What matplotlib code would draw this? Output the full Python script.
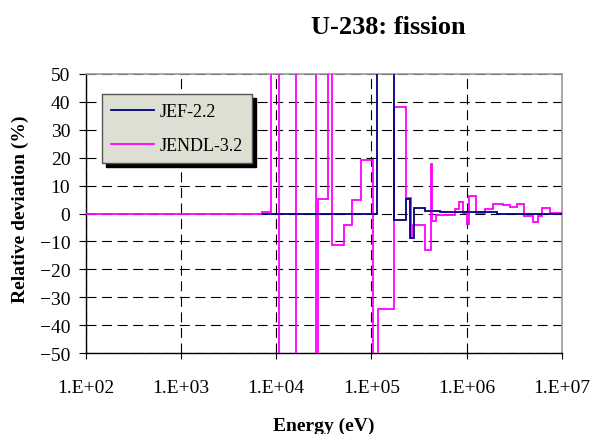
import matplotlib.pyplot as plt
import numpy as np

# group boundaries (eV) and relative deviation (%) for each evaluation
# values of +/-200 are off-scale spikes that get clipped by the y-limits
JEF_EDGES = [7.1e3, 1.14e5, 1.73e5, 2.3e5, 2.54e5, 2.8e5, 3.64e5,
             5.2e5, 2.06e6, 1.0e7]
JEF_VALUES = [0.0, 200.0, -2.3, 5.2, -8.8, 1.9, 0.8, 0.4, 0.0]

JENDL_EDGES = [1.0e2, 7.1e3, 8.75e3, 1.07e4, 1.6e4, 2.6e4, 2.77e4, 3.47e4,
               3.88e4, 5.19e4, 6.29e4, 7.77e4, 1.045e5, 1.16e5, 1.73e5,
               2.28e5, 2.58e5, 2.75e5, 3.64e5, 4.18e5, 4.34e5, 4.75e5,
               7.51e5, 8.34e5, 9.05e5, 9.97e5, 1.05e6, 1.25e6, 1.55e6,
               1.9e6, 2.42e6, 2.84e6, 3.34e6, 4.01e6, 4.92e6, 5.63e6,
               6.11e6, 7.47e6, 1.0e7]
JENDL_VALUES = [0.0, 0.7, 200.0, -200.0, 200.0, -200.0, 5.2, 200.0,
                -11.4, -4.1, 5.0, 19.2, -200.0, -34.2, 38.2, 5.6, -8.6,
                -4.0, -13.1, 17.7, -2.8, -0.5, 1.5, 4.2, 0.3, -3.8, 6.3,
                0.3, 1.5, 3.5, 3.1, 2.4, 3.5, -0.9, -3.2, -0.9, 1.9, 0.3]

X_TICKS = [1e2, 1e3, 1e4, 1e5, 1e6, 1e7]
X_TICK_LABELS = ["1.E+02", "1.E+03", "1.E+04", "1.E+05", "1.E+06", "1.E+07"]
Y_TICKS = list(range(-50, 51, 10))

plt.rcParams['font.family'] = ['Liberation Serif', 'DejaVu Serif']

fig = plt.figure(figsize=(5.9, 4.35), dpi=100)
ax = fig.add_axes([0.145, 0.186, 0.8075, 0.6416])

ax.stairs(JENDL_VALUES, JENDL_EDGES, color='#ff00ff', lw=1.3,
          label='JENDL-3.2', zorder=3, baseline=None)
ax.stairs(JEF_VALUES, JEF_EDGES, color='#000080', lw=1.3,
          label='JEF-2.2', zorder=4, baseline=None)

ax.set_xscale('log')
ax.set_xlim(1e2, 1e7)
ax.set_ylim(-50, 50)
ax.set_xticks(X_TICKS)
ax.set_xticklabels(X_TICK_LABELS)
ax.xaxis.set_minor_locator(plt.NullLocator())
ax.set_yticks(Y_TICKS)

ax.grid(True, color='black', lw=0.8, linestyle=(0, (9, 5)))
ax.set_axisbelow(True)

for side in ('top', 'right'):
    ax.spines[side].set_color('#999999')
    ax.spines[side].set_linewidth(1.2)
for side in ('left', 'bottom'):
    ax.spines[side].set_linewidth(1.0)

ax.tick_params(axis='x', direction='out', length=4, labelsize=14, pad=15)
ax.tick_params(axis='y', direction='out', length=5, labelsize=14, pad=6)

ax.set_ylabel('Relative deviation (%)', fontsize=14, fontweight='bold')
ax.yaxis.set_label_coords(-0.118, 0.52)
ax.set_xlabel('Energy (eV)', fontsize=14, fontweight='bold')
ax.xaxis.set_label_coords(0.5, -0.228)

fig.text(0.658, 0.936, 'U-238: fission', fontsize=19, fontweight='bold',
         ha='center', va='center')

# legend lists JEF first, as in the series order
handles, labels = ax.get_legend_handles_labels()
leg = ax.legend(handles[::-1], labels[::-1], loc='upper left',
                bbox_to_anchor=(0.034, 0.928), borderaxespad=0,
                fontsize=13, frameon=True, fancybox=False,
                shadow={'ox': 3, 'oy': -3, 'color': 'black', 'alpha': 1},
                handlelength=2.4, handletextpad=0.3, labelspacing=0.95,
                borderpad=0.5)
leg.get_frame().set_facecolor('#dcdfd2')
leg.get_frame().set_edgecolor('#555555')
leg.get_frame().set_alpha(1)

fig.savefig('out.png', dpi=100)
